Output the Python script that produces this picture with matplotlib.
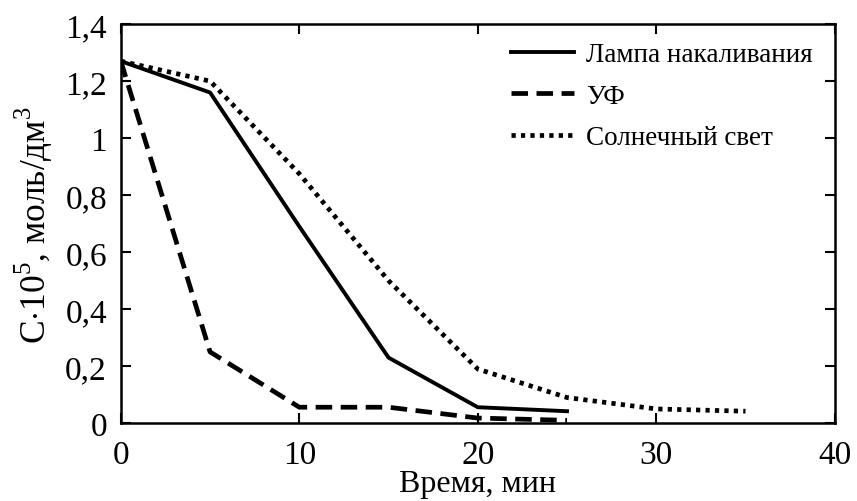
import matplotlib
matplotlib.use('Agg')
import matplotlib.pyplot as plt
from matplotlib.ticker import FuncFormatter

plt.rcParams['font.family'] = ['Liberation Serif', 'DejaVu Serif']
plt.rcParams['mathtext.fontset'] = 'custom'
plt.rcParams['mathtext.rm'] = 'Liberation Serif'

# данные
t_lamp = [0, 5, 10, 15, 20, 25]
c_lamp = [1.27, 1.16, 0.69, 0.23, 0.056, 0.042]
t_uv = [0, 5, 10, 15, 20, 25]
c_uv = [1.27, 0.25, 0.056, 0.056, 0.018, 0.01]
t_sun = [0, 5, 10, 15, 20, 25, 30, 35]
c_sun = [1.27, 1.20, 0.875, 0.50, 0.19, 0.09, 0.05, 0.042]

fig = plt.figure(figsize=(8.57, 5.02), dpi=100)
ax = fig.add_axes([0.141, 0.155, 0.833, 0.795])

ax.plot(t_lamp, c_lamp, color='black', lw=2.8, label='Лампа накаливания')
ax.plot(t_uv, c_uv, color='black', lw=3.4, dashes=(3.5, 1.8), label='УФ')
ax.plot(t_sun, c_sun, color='black', lw=3.4, dashes=(0.9, 1.1), label='Солнечный свет')

ax.set_xlim(0, 40)
ax.set_ylim(0, 1.4)
ax.set_xticks([0, 10, 20, 30, 40])
ax.set_yticks([0, 0.2, 0.4, 0.6, 0.8, 1.0, 1.2, 1.4])

def fmt(v, pos):
    s = ('%.1f' % v).rstrip('0').rstrip('.')
    return s.replace('.', ',')

ax.yaxis.set_major_formatter(FuncFormatter(fmt))
ax.tick_params(direction='in', length=7, width=1.5, labelsize=24,
               top=True, right=True)
ax.tick_params(axis='x', pad=12)
ax.tick_params(axis='y', pad=10)
for sp in ax.spines.values():
    sp.set_linewidth(1.8)

ax.set_xlabel('Время, мин', fontsize=23, labelpad=-1)
ax.set_ylabel(r'С$\cdot$10$^5$, моль/дм$^3$', fontsize=25.5, labelpad=7)

ax.legend(loc='upper right', frameon=False, fontsize=19.5, handlelength=2.3,
          labelspacing=0.6, handletextpad=0.45, bbox_to_anchor=(1.003, 1.015))

fig.savefig('out.png', dpi=100)
plt.close(fig)
